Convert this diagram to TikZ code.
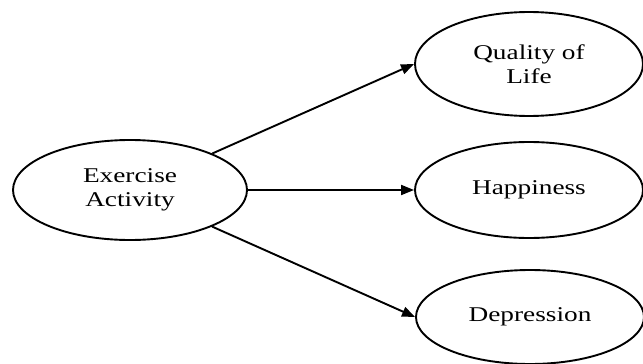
\documentclass[tikz,border=0pt]{standalone}
\usepackage{fontspec}
\setmainfont{Liberation Serif}[FakeStretch=1.3]
\usetikzlibrary{shapes.geometric,arrows.meta}
\begin{document}
\begin{tikzpicture}[x=1pt,y=-1pt,
  oval/.style={draw=black,ellipse,line width=1.9pt,inner sep=0pt,align=center,
    font=\fontsize{21}{24.5}\selectfont},
  conn/.style={draw=black,line width=1.9pt,-{Triangle[length=13pt,width=10pt]}}]
\useasboundingbox (0,0) rectangle (643,364);
\node[oval,minimum width=234pt,minimum height=100pt] (ex) at (130,190) {Exercise\\Activity};
\node[oval,minimum width=228pt,minimum height=104pt] (q) at (529,64) {Quality of\\Life};
\node[oval,minimum width=228pt,minimum height=96pt] (h) at (529,190) {Happiness};
\node[oval,minimum width=228pt,minimum height=94pt] (d) at (530,317) {Depression};
\draw[conn] (ex) -- (q.west);
\draw[conn] (ex) -- (h.west);
\draw[conn] (ex) -- (d.west);
\end{tikzpicture}
\end{document}
